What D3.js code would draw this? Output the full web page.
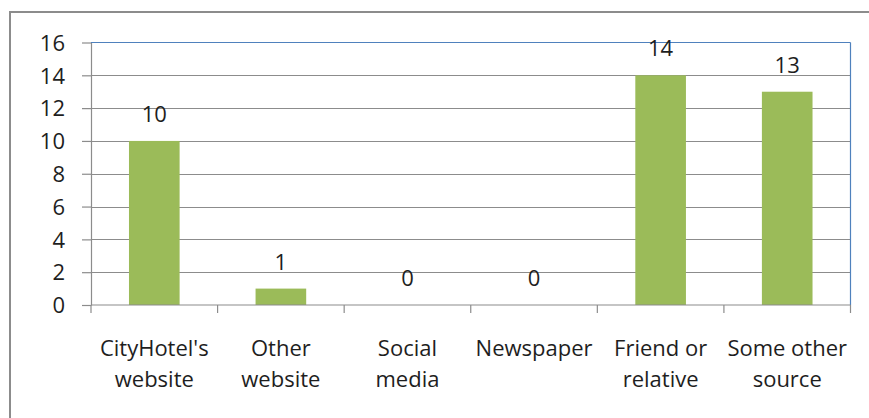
<!DOCTYPE html>
<html><head><meta charset="utf-8">
<script src="https://cdn.jsdelivr.net/npm/d3@7"></script>
<style>body{margin:0;background:#fff}svg{display:block;font-family:"Open Sans",sans-serif}</style>
</head><body><svg id="c" width="869" height="418"></svg>
<script>
const categories = [["CityHotel's","website"],["Other","website"],["Social","media"],["Newspaper"],["Friend or","relative"],["Some other","source"]];
const values = [10,1,0,0,14,13];
const yTicks = [0,2,4,6,8,10,12,14,16];

const svg = d3.select("#c");
const L=91, R=850.5, T=42.5, B=305;
const FS=22, TXT="#1e1e1e";
svg.append("rect").attr("x",10).attr("y",12).attr("width",900).attr("height",500)
  .attr("fill","none").attr("stroke","#8c8c8c").attr("stroke-width",2);

const x = d3.scaleBand().domain(categories.map((d,i)=>i)).range([L,R]).paddingInner(0.6).paddingOuter(0.3);
const xb = d3.scaleBand().domain(categories.map((d,i)=>i)).range([L,R]);
const y = d3.scaleLinear().domain([0,16]).range([B,T]);

svg.append("g").selectAll("line").data(yTicks.filter(t=>t>0&&t<16)).join("line")
  .attr("x1",L).attr("x2",R).attr("y1",d=>Math.round(y(d))+0.5).attr("y2",d=>Math.round(y(d))+0.5)
  .attr("stroke","#8c8c8c").attr("stroke-width",1.2);

svg.append("line").attr("x1",L).attr("x2",R).attr("y1",T).attr("y2",T).attr("stroke","#4f81bd").attr("stroke-width",1.2);
svg.append("line").attr("x1",R).attr("x2",R).attr("y1",T).attr("y2",B).attr("stroke","#4f81bd").attr("stroke-width",1.2);

svg.append("g").selectAll("rect").data(values).join("rect")
  .attr("x",(d,i)=>x(i)).attr("width",x.bandwidth())
  .attr("y",d=>y(d)).attr("height",d=>B-y(d)).attr("fill","#9bbb59");

const ya = svg.append("g").attr("transform",`translate(${L},0)`)
  .call(d3.axisLeft(y).tickValues(yTicks).tickSize(9).tickPadding(17).tickSizeOuter(0));
ya.select(".domain").attr("stroke","#8c8c8c").attr("stroke-width",1.2);
ya.selectAll(".tick line").attr("stroke","#8c8c8c").attr("stroke-width",1.2);
ya.selectAll(".tick text").attr("font-family","Open Sans").attr("font-size",FS).attr("fill",TXT).attr("dy","0.35em");

svg.append("line").attr("x1",L).attr("x2",R).attr("y1",B).attr("y2",B).attr("stroke","#8c8c8c").attr("stroke-width",1.2);
const bounds = categories.map((d,i)=>xb(i)).concat([R]);
svg.append("g").selectAll("line").data(bounds).join("line")
  .attr("x1",d=>d).attr("x2",d=>d).attr("y1",B).attr("y2",B+8).attr("stroke","#8c8c8c").attr("stroke-width",1.2);

const cl = svg.append("g").selectAll("text").data(categories).join("text")
  .attr("x",(d,i)=>xb(i)+xb.bandwidth()/2).attr("y",356)
  .attr("text-anchor","middle").attr("font-size",FS).attr("fill",TXT);
cl.selectAll("tspan").data(d=>d).join("tspan")
  .attr("x",function(){return this.parentNode.getAttribute("x");})
  .attr("dy",(d,i)=>i?31:0).text(d=>d);

svg.append("g").selectAll("text").data(values).join("text")
  .attr("x",(d,i)=>x(i)+x.bandwidth()/2).attr("y",d=>y(d)-19)
  .attr("text-anchor","middle").attr("font-size",FS).attr("fill",TXT).text(d=>d);
</script></body></html>
